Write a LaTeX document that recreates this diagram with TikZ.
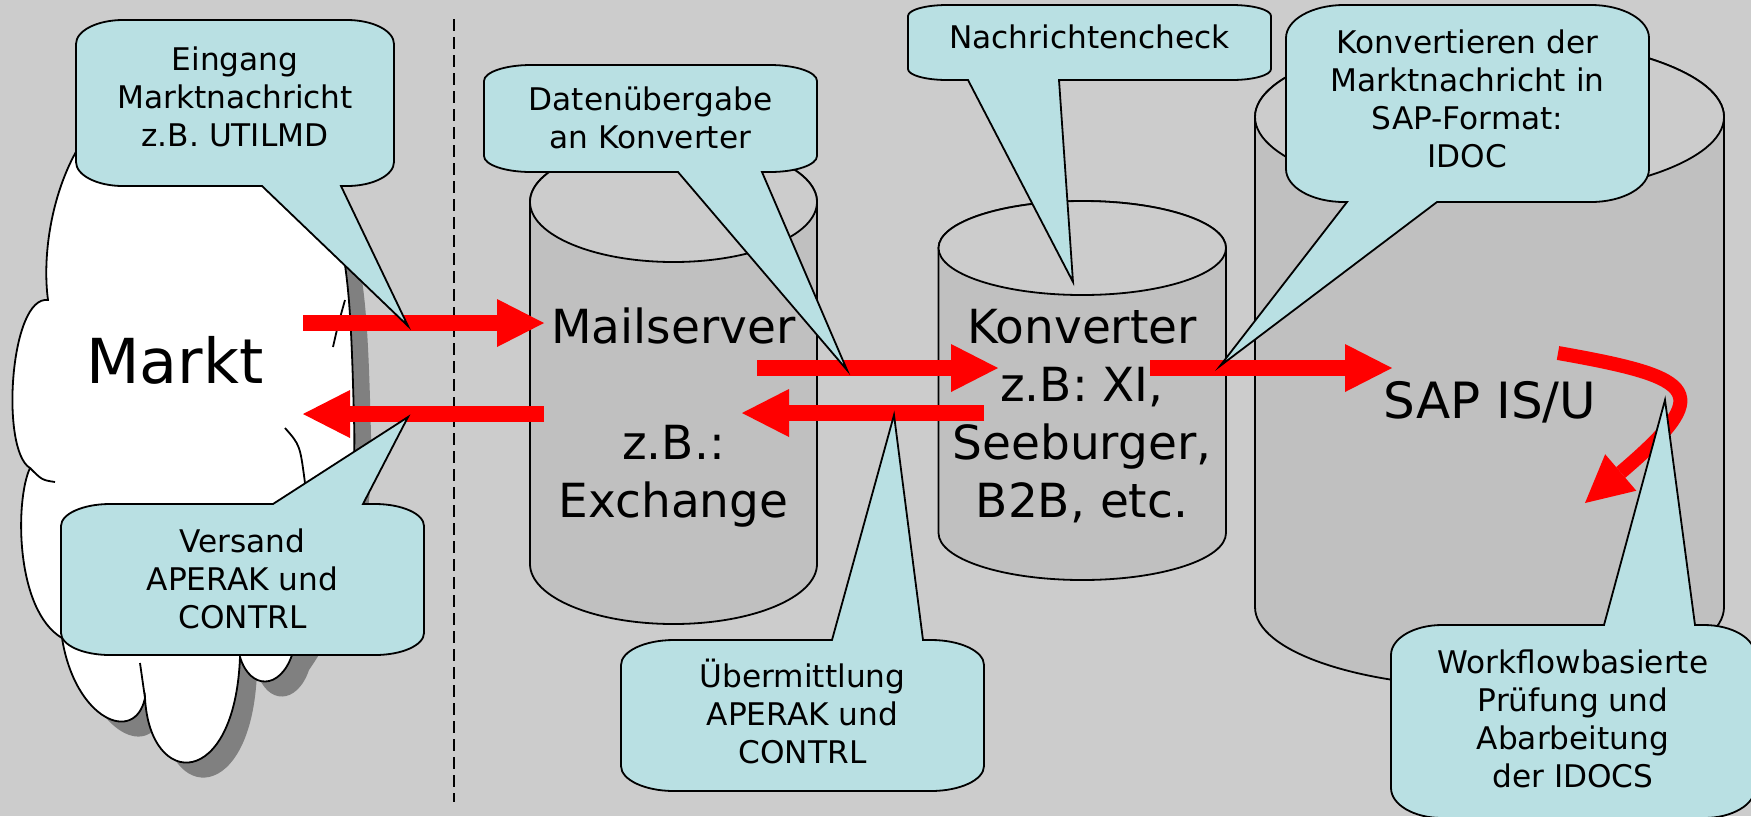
\documentclass[tikz,border=0pt]{standalone}
\usepackage{fontspec}
\setmainfont{DejaVu Sans}
\usetikzlibrary{arrows.meta}

\definecolor{bggray}{RGB}{204,204,204}
\definecolor{cylgray}{RGB}{192,192,192}
\definecolor{calloutcyan}{RGB}{185,224,227}
\definecolor{shadowgray}{RGB}{128,128,128}

\tikzset{
  outline/.style={draw=black, line width=0.9pt},
  cylbody/.style={outline, fill=cylgray},
  cyltop/.style={outline, fill=bggray},
  bubble/.style={outline, fill=calloutcyan, line join=miter},
  bubbletext/.style={font=\fontsize{15.6}{19}\selectfont, align=center, anchor=north, inner sep=0pt},
  bigtext/.style={font=\fontsize{23.5}{29}\selectfont, align=center, anchor=north, inner sep=0pt},
  divider/.style={draw=black, line width=1pt, dash pattern=on 6pt off 3pt},
  flow/.style={draw=red, line width=8pt, -{Triangle[length=23.5pt,width=24pt,line width=0pt]}},
}

% outline of the market cloud
\newcommand{\marktcloud}{(110,110) .. controls (60,150) and (40,240) .. (48,300)
  .. controls (10,295) and (0,450) .. (30,468)
  .. controls (15,500) and (15,610) .. (62,638)
  .. controls (75,720) and (135,745) .. (145,698)
  .. controls (150,790) and (235,790) .. (240,657)
  .. controls (250,690) and (280,690) .. (292,655)
  .. controls (330,600) and (358,520) .. (354,420)
  .. controls (352,340) and (350,300) .. (345,265)
  .. controls (335,180) and (290,140) .. (240,130)
  .. controls (190,95) and (140,95) .. (110,110) -- cycle}

\begin{document}
\begin{tikzpicture}[x=0.5pt,y=0.5pt,yscale=-1,xscale=1]
\fill[bggray] (0,0) rectangle (1751,816);
\useasboundingbox (0,0) rectangle (1751,816);

%Straight Lines: divider
\coordinate (divtop) at (454,19);
\coordinate (divbot) at (454,802);
\draw[divider] (divtop) -- (divbot);

%Shape: Cloud
\begin{scope}[shift={(17,15)}]
\fill[shadowgray] \marktcloud;
\end{scope}
\draw[outline, fill=white] \marktcloud;
\draw[outline] (30,468) .. controls (42,480) .. (55,482);
\draw[outline] (140,663) .. controls (142,680) .. (145,698);
\draw[outline] (285,428) .. controls (300,445) .. (305,483);
\draw[outline] (333,347) .. controls (338,325) .. (345,300);
% Text Node
\node[font=\fontsize{31}{37}\selectfont, anchor=base, inner sep=0pt] (markt) at (175,383) {Markt};

%Shape: Can (Mailserver)
\draw[cylbody] (530,202) -- (530,564) arc[start angle=180,end angle=0,x radius=143.5,y radius=60] -- (817,202) arc[start angle=0,end angle=-180,x radius=143.5,y radius=60] -- cycle;
\draw[cyltop] (673.5,202) ellipse[x radius=143.5,y radius=60];
%Shape: Can (Konverter)
\draw[cylbody] (938.5,248) -- (938.5,533) arc[start angle=180,end angle=0,x radius=143.75,y radius=47] -- (1226,248) arc[start angle=0,end angle=-180,x radius=143.75,y radius=47] -- cycle;
\draw[cyltop] (1082.25,248) ellipse[x radius=143.75,y radius=47];
%Shape: Can (SAP)
\draw[cylbody] (1255,117) -- (1255,607) arc[start angle=180,end angle=0,x radius=234.5,y radius=80] -- (1724,117) arc[start angle=0,end angle=-180,x radius=234.5,y radius=80] -- cycle;
\draw[cyltop] (1489.5,117) ellipse[x radius=234.5,y radius=80];

% Text Node
\node[bigtext] (mailserver) at (673.5,307) {Mailserver\\[29pt]z.B.:\\Exchange};
% Text Node
\node[bigtext] (konverter) at (1082,309) {Konverter\\z.B: XI,\\Seeburger,\\B2B, etc.};
% Text Node
\node[font=\fontsize{25}{30}\selectfont, anchor=base, inner sep=0pt] (sap) at (1490,418) {SAP IS/U};

%Straight Lines: message flow
\coordinate (mkt_out) at (303,323);
\coordinate (ms_in) at (544,323);
\coordinate (ms_out) at (544,414);
\coordinate (mkt_in) at (303,414);
\coordinate (ms_fwd) at (757,368);
\coordinate (kv_in) at (998,368);
\coordinate (kv_back) at (984,413);
\coordinate (ms_back) at (742,413);
\coordinate (kv_out) at (1150,368);
\coordinate (sap_in) at (1392,368);
\coordinate (wf_start) at (1558,353);
\coordinate (wf_end) at (1585,503);
\draw[flow] (mkt_out) -- (ms_in);
\draw[flow] (ms_out) -- (mkt_in);
\draw[flow] (ms_fwd) -- (kv_in);
\draw[flow] (kv_back) -- (ms_back);
\draw[flow] (kv_out) -- (sap_in);
\draw[flow, line width=7pt] (wf_start) .. controls (1700,378) and (1715,392) .. (wf_end);

%Shape: Rounded Rectangular Callout (Eingang)
\draw[bubble] (123,20) -- (347,20) arc[start angle=-90,end angle=0,x radius=47,y radius=24] -- (394,162) arc[start angle=0,end angle=90,x radius=47,y radius=24] -- (341,186) -- (408,326) -- (262,186) -- (123,186) arc[start angle=90,end angle=180,x radius=47,y radius=24] -- (76,44) arc[start angle=180,end angle=270,x radius=47,y radius=24] -- cycle;
%Shape: Rounded Rectangular Callout (Versand)
\draw[bubble] (110,504) -- (273,504) -- (408,417) -- (363,504) -- (375,504) arc[start angle=-90,end angle=0,x radius=49,y radius=22] -- (424,633) arc[start angle=0,end angle=90,x radius=49,y radius=22] -- (110,655) arc[start angle=90,end angle=180,x radius=49,y radius=22] -- (61,526) arc[start angle=180,end angle=270,x radius=49,y radius=22] -- cycle;
%Shape: Rounded Rectangular Callout (Datenuebergabe)
\draw[bubble] (531,65) -- (770,65) arc[start angle=-90,end angle=0,x radius=47,y radius=16] -- (817,156) arc[start angle=0,end angle=90,x radius=47,y radius=16] -- (762,172) -- (847,370) -- (678,172) -- (531,172) arc[start angle=90,end angle=180,x radius=47,y radius=16] -- (484,81) arc[start angle=180,end angle=270,x radius=47,y radius=16] -- cycle;
%Shape: Rounded Rectangular Callout (Nachrichtencheck)
\draw[bubble] (947,5) -- (1232,5) arc[start angle=-90,end angle=0,x radius=39,y radius=11] -- (1271,69) arc[start angle=0,end angle=90,x radius=39,y radius=11] -- (1059,80) -- (1073,282) -- (968,80) -- (947,80) arc[start angle=90,end angle=180,x radius=39,y radius=11] -- (908,16) arc[start angle=180,end angle=270,x radius=39,y radius=11] -- cycle;
%Shape: Rounded Rectangular Callout (Konvertieren)
\draw[bubble] (1344,5) -- (1591,5) arc[start angle=-90,end angle=0,x radius=58,y radius=33] -- (1649,169) arc[start angle=0,end angle=90,x radius=58,y radius=33] -- (1437,202) -- (1220,366) -- (1347,202) -- (1344,202) arc[start angle=90,end angle=180,x radius=58,y radius=33] -- (1286,38) arc[start angle=180,end angle=270,x radius=58,y radius=33] -- cycle;
%Shape: Rounded Rectangular Callout (Uebermittlung)
\draw[bubble] (674,640) -- (832,640) -- (894,415) -- (923,640) -- (931,640) arc[start angle=-90,end angle=0,x radius=53,y radius=25] -- (984,766) arc[start angle=0,end angle=90,x radius=53,y radius=25] -- (674,791) arc[start angle=90,end angle=180,x radius=53,y radius=25] -- (621,665) arc[start angle=180,end angle=270,x radius=53,y radius=25] -- cycle;
%Shape: Rounded Rectangular Callout (Workflow)
\draw[bubble] (1442,625) -- (1604,625) -- (1665,400) -- (1695,625) -- (1704,625) arc[start angle=-90,end angle=0,x radius=51,y radius=30] -- (1755,788) arc[start angle=0,end angle=90,x radius=51,y radius=30] -- (1442,818) arc[start angle=90,end angle=180,x radius=51,y radius=30] -- (1391,655) arc[start angle=180,end angle=270,x radius=51,y radius=30] -- cycle;

% Text Node
\node[bubbletext] (eingang) at (235,46) {Eingang\\Marktnachricht\\z.B. UTILMD};
% Text Node
\node[bubbletext] (versand) at (242.5,528) {Versand\\APERAK und\\CONTRL};
% Text Node
\node[bubbletext] (uebergabe) at (650.5,86) {Datenübergabe\\an Konverter};
% Text Node
\node[bubbletext] (check) at (1089.5,24) {Nachrichtencheck};
% Text Node
\node[bubbletext] (konvertieren) at (1467.5,29) {Konvertieren der\\Marktnachricht in\\SAP-Format:\\IDOC};
% Text Node
\node[bubbletext] (uebermittlung) at (802.5,659) {Übermittlung\\APERAK und\\CONTRL};
% Text Node
\node[bubbletext] (workflow) at (1573,649) {Workflowbasierte\\Prüfung und\\Abarbeitung\\der IDOCS};
\end{tikzpicture}
\end{document}
